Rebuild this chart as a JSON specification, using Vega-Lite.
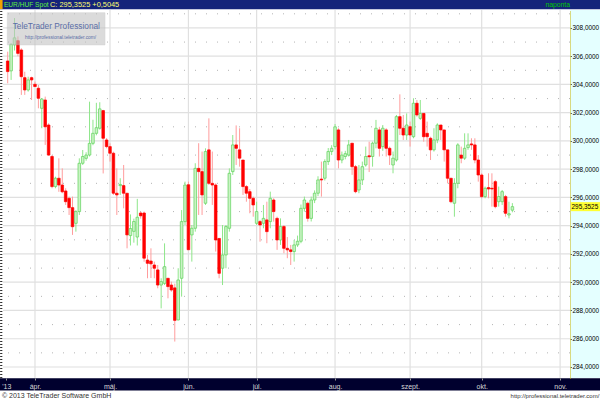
{
  "$schema": "https://vega.github.io/schema/vega-lite/v6.json",
  "width": 567,
  "height": 368,
  "autosize": {"type": "none"},
  "padding": {"left": 3, "top": 10, "right": 30, "bottom": 22},
  "background": "white",
  "config": {"view": {"stroke": null}, "font": "Liberation Sans", "axis": {"labelOverlap": false}},
  "datasets": {
    "ohlc": [
      {"i":-8,"o":305.66,"h":306.32,"l":304.08,"c":304.91},
      {"i":-7,"o":304.96,"h":306.91,"l":304.32,"c":306.84},
      {"i":-6,"o":306.8,"h":308.7,"l":306.4,"c":307.3},
      {"i":-5,"o":307.1,"h":307.4,"l":306.0,"c":306.2},
      {"i":-4,"o":306.44,"h":306.56,"l":303.26,"c":304.55},
      {"i":-3,"o":304.48,"h":304.9,"l":303.26,"c":303.61},
      {"i":-2,"o":303.61,"h":304.55,"l":303.49,"c":304.32},
      {"i":-1,"o":304.48,"h":304.55,"l":302.9,"c":304.32},
      {"i":0,"o":304.01,"h":304.2,"l":303.85,"c":303.85},
      {"i":1,"o":303.73,"h":303.96,"l":302.31,"c":303.02},
      {"i":2,"o":302.31,"h":303.02,"l":300.9,"c":302.97},
      {"i":3,"o":302.9,"h":303.14,"l":299.72,"c":301.0},
      {"i":4,"o":301.13,"h":301.25,"l":298.95,"c":299.0},
      {"i":5,"o":298.9,"h":299.0,"l":296.65,"c":296.77},
      {"i":6,"o":296.77,"h":297.47,"l":296.65,"c":297.36},
      {"i":7,"o":297.36,"h":298.77,"l":296.4,"c":296.88},
      {"i":8,"o":296.88,"h":298.06,"l":296.3,"c":296.4},
      {"i":9,"o":296.46,"h":296.65,"l":295.47,"c":295.7},
      {"i":10,"o":295.94,"h":296.06,"l":294.76,"c":295.28},
      {"i":11,"o":295.28,"h":296.06,"l":293.35,"c":293.93},
      {"i":12,"o":294.17,"h":295.1,"l":293.58,"c":295.0},
      {"i":13,"o":295.0,"h":298.77,"l":294.76,"c":298.42},
      {"i":14,"o":298.42,"h":299.36,"l":298.3,"c":298.9},
      {"i":15,"o":298.77,"h":299.2,"l":298.6,"c":299.0},
      {"i":16,"o":299.0,"h":302.78,"l":298.9,"c":299.83},
      {"i":17,"o":299.83,"h":301.5,"l":299.7,"c":300.54},
      {"i":18,"o":300.54,"h":302.7,"l":300.4,"c":300.94},
      {"i":19,"o":300.9,"h":302.74,"l":300.8,"c":302.27},
      {"i":20,"o":302.15,"h":302.2,"l":297.7,"c":300.19},
      {"i":21,"o":300.07,"h":300.2,"l":299.48,"c":299.6},
      {"i":22,"o":299.6,"h":299.83,"l":298.54,"c":299.13},
      {"i":23,"o":299.13,"h":299.24,"l":296.18,"c":296.3},
      {"i":24,"o":296.3,"h":298.06,"l":294.76,"c":296.18},
      {"i":25,"o":296.84,"h":297.36,"l":296.18,"c":296.92},
      {"i":26,"o":296.84,"h":298.3,"l":295.23,"c":296.3},
      {"i":27,"o":296.3,"h":296.3,"l":292.4,"c":293.35},
      {"i":28,"o":293.3,"h":294.8,"l":292.6,"c":293.8},
      {"i":29,"o":293.6,"h":294.5,"l":292.8,"c":294.3},
      {"i":30,"o":293.2,"h":295.9,"l":292.6,"c":294.6},
      {"i":31,"o":294.9,"h":295.0,"l":294.5,"c":294.7},
      {"i":32,"o":294.9,"h":295.0,"l":291.45,"c":291.7},
      {"i":33,"o":291.57,"h":291.93,"l":290.28,"c":291.34},
      {"i":34,"o":291.5,"h":292.4,"l":290.3,"c":291.3},
      {"i":35,"o":291.22,"h":291.46,"l":290.28,"c":290.99},
      {"i":36,"o":290.87,"h":291.22,"l":289.57,"c":289.8},
      {"i":37,"o":289.8,"h":290.28,"l":288.15,"c":290.04},
      {"i":38,"o":289.92,"h":292.75,"l":289.8,"c":291.1},
      {"i":39,"o":290.28,"h":290.28,"l":288.86,"c":289.69},
      {"i":40,"o":289.8,"h":290.04,"l":289.33,"c":289.45},
      {"i":41,"o":289.6,"h":289.9,"l":285.8,"c":287.3},
      {"i":42,"o":287.33,"h":290.99,"l":287.3,"c":290.16},
      {"i":43,"o":290.28,"h":295.11,"l":288.98,"c":294.29},
      {"i":44,"o":294.29,"h":297.12,"l":294.05,"c":296.88},
      {"i":45,"o":296.9,"h":297.12,"l":292.29,"c":292.3},
      {"i":46,"o":293.35,"h":294.05,"l":291.46,"c":293.82},
      {"i":47,"o":293.82,"h":298.42,"l":293.58,"c":298.06},
      {"i":48,"o":298.06,"h":299.84,"l":294.76,"c":297.83},
      {"i":49,"o":297.83,"h":299.25,"l":294.76,"c":296.18},
      {"i":50,"o":295.59,"h":299.48,"l":295.47,"c":299.25},
      {"i":51,"o":299.37,"h":301.6,"l":296.88,"c":297.0},
      {"i":52,"o":297.0,"h":299.25,"l":295.47,"c":296.88},
      {"i":53,"o":296.88,"h":297.0,"l":292.17,"c":292.99},
      {"i":54,"o":293.1,"h":293.1,"l":290.28,"c":290.63},
      {"i":55,"o":290.99,"h":294.05,"l":289.8,"c":291.93},
      {"i":56,"o":291.93,"h":294.05,"l":290.99,"c":293.94},
      {"i":57,"o":293.82,"h":298.06,"l":293.58,"c":297.71},
      {"i":58,"o":297.83,"h":300.42,"l":297.59,"c":299.72},
      {"i":59,"o":299.72,"h":301.1,"l":298.3,"c":299.48},
      {"i":60,"o":299.37,"h":300.9,"l":298.18,"c":298.78},
      {"i":61,"o":298.65,"h":298.65,"l":296.18,"c":296.77},
      {"i":62,"o":296.77,"h":296.88,"l":295.7,"c":296.3},
      {"i":63,"o":296.41,"h":296.6,"l":294.88,"c":295.94},
      {"i":64,"o":295.94,"h":296.06,"l":294.64,"c":295.47},
      {"i":65,"o":294.17,"h":295.7,"l":294.05,"c":295.0},
      {"i":66,"o":294.29,"h":294.41,"l":292.87,"c":294.05},
      {"i":67,"o":294.17,"h":295.47,"l":293.82,"c":294.52},
      {"i":68,"o":294.41,"h":295.7,"l":292.76,"c":293.58},
      {"i":69,"o":294.29,"h":296.41,"l":293.82,"c":295.94},
      {"i":70,"o":295.82,"h":295.94,"l":294.29,"c":295.0},
      {"i":71,"o":294.52,"h":294.64,"l":292.29,"c":292.99},
      {"i":72,"o":292.99,"h":294.52,"l":292.64,"c":293.94},
      {"i":73,"o":293.94,"h":294.05,"l":292.05,"c":292.4},
      {"i":74,"o":292.4,"h":293.2,"l":291.7,"c":292.29},
      {"i":75,"o":292.29,"h":292.64,"l":291.22,"c":292.17},
      {"i":76,"o":292.17,"h":292.99,"l":291.46,"c":292.64},
      {"i":77,"o":292.64,"h":293.3,"l":292.5,"c":292.9},
      {"i":78,"o":292.9,"h":295.5,"l":292.76,"c":295.23},
      {"i":79,"o":295.23,"h":296.06,"l":295.0,"c":295.82},
      {"i":80,"o":295.59,"h":295.7,"l":294.29,"c":294.52},
      {"i":81,"o":294.52,"h":296.06,"l":294.3,"c":295.82},
      {"i":82,"o":295.82,"h":296.5,"l":295.6,"c":296.3},
      {"i":83,"o":296.3,"h":297.5,"l":296.1,"c":297.24},
      {"i":84,"o":297.3,"h":298.54,"l":296.06,"c":297.24},
      {"i":85,"o":297.36,"h":298.7,"l":297.2,"c":298.54},
      {"i":86,"o":298.54,"h":299.5,"l":298.3,"c":299.25},
      {"i":87,"o":299.25,"h":299.7,"l":299.0,"c":299.48},
      {"i":88,"o":299.6,"h":301.2,"l":299.4,"c":301.0},
      {"i":89,"o":300.78,"h":300.9,"l":298.06,"c":298.65},
      {"i":90,"o":298.65,"h":299.25,"l":298.42,"c":299.0},
      {"i":91,"o":298.9,"h":299.3,"l":298.7,"c":299.1},
      {"i":92,"o":299.0,"h":300.07,"l":298.9,"c":299.72},
      {"i":93,"o":299.84,"h":299.84,"l":297.6,"c":298.18},
      {"i":94,"o":298.18,"h":298.3,"l":296.3,"c":296.41},
      {"i":95,"o":296.53,"h":298.3,"l":296.3,"c":297.24},
      {"i":96,"o":297.24,"h":298.54,"l":296.88,"c":298.18},
      {"i":97,"o":298.3,"h":299.6,"l":298.18,"c":298.9},
      {"i":98,"o":298.95,"h":299.95,"l":297.8,"c":298.88},
      {"i":99,"o":298.9,"h":299.95,"l":298.18,"c":299.84},
      {"i":100,"o":299.84,"h":301.49,"l":299.48,"c":300.9},
      {"i":101,"o":300.78,"h":301.0,"l":298.9,"c":299.48},
      {"i":102,"o":299.6,"h":301.13,"l":299.3,"c":300.9},
      {"i":103,"o":300.78,"h":300.9,"l":298.9,"c":299.48},
      {"i":104,"o":299.48,"h":299.6,"l":298.3,"c":299.0},
      {"i":105,"o":298.3,"h":299.25,"l":297.71,"c":298.78},
      {"i":106,"o":298.65,"h":301.84,"l":298.54,"c":301.72},
      {"i":107,"o":301.72,"h":303.3,"l":300.42,"c":300.9},
      {"i":108,"o":300.9,"h":301.84,"l":300.07,"c":300.42},
      {"i":109,"o":300.42,"h":301.95,"l":300.07,"c":301.13},
      {"i":110,"o":301.01,"h":301.37,"l":299.6,"c":300.42},
      {"i":111,"o":300.3,"h":303.02,"l":300.19,"c":302.67},
      {"i":112,"o":302.67,"h":302.9,"l":301.72,"c":301.84},
      {"i":113,"o":301.6,"h":302.9,"l":301.49,"c":301.95},
      {"i":114,"o":301.95,"h":301.95,"l":299.95,"c":300.3},
      {"i":115,"o":300.54,"h":301.37,"l":299.6,"c":300.3},
      {"i":116,"o":300.19,"h":300.3,"l":298.65,"c":299.37},
      {"i":117,"o":299.37,"h":300.9,"l":299.25,"c":300.07},
      {"i":118,"o":300.07,"h":301.25,"l":299.84,"c":301.13},
      {"i":119,"o":301.13,"h":301.13,"l":300.07,"c":300.78},
      {"i":120,"o":300.78,"h":300.78,"l":298.54,"c":299.37},
      {"i":121,"o":299.37,"h":299.37,"l":297.0,"c":297.36},
      {"i":122,"o":297.36,"h":297.36,"l":295.59,"c":295.7},
      {"i":123,"o":295.59,"h":297.36,"l":294.64,"c":297.0},
      {"i":124,"o":297.0,"h":299.84,"l":296.65,"c":299.72},
      {"i":125,"o":299.0,"h":299.6,"l":298.42,"c":298.78},
      {"i":126,"o":298.78,"h":300.54,"l":298.65,"c":299.48},
      {"i":127,"o":299.53,"h":300.54,"l":299.37,"c":299.72},
      {"i":128,"o":299.79,"h":300.19,"l":299.37,"c":299.72},
      {"i":129,"o":299.72,"h":300.19,"l":298.42,"c":298.65},
      {"i":130,"o":298.65,"h":299.0,"l":297.12,"c":297.59},
      {"i":131,"o":297.59,"h":297.71,"l":295.94,"c":296.06},
      {"i":132,"o":296.06,"h":296.77,"l":295.94,"c":296.65},
      {"i":133,"o":296.7,"h":297.71,"l":295.94,"c":296.6},
      {"i":134,"o":296.65,"h":297.71,"l":295.35,"c":296.6},
      {"i":135,"o":297.12,"h":297.24,"l":295.23,"c":295.35},
      {"i":136,"o":295.7,"h":296.77,"l":295.35,"c":296.06},
      {"i":137,"o":295.7,"h":296.53,"l":295.47,"c":296.41},
      {"i":138,"o":296.06,"h":296.18,"l":294.64,"c":294.88},
      {"i":139,"o":294.76,"h":295.7,"l":294.52,"c":294.85},
      {"i":140,"o":295.1,"h":295.6,"l":294.95,"c":295.35}
    ]
  },
  "layer": [
    {
      "data": {"name": "ohlc"},
      "mark": {"type": "rule", "strokeWidth": 1, "opacity": 0},
      "encoding": {
        "x": {"field": "i", "type": "quantitative", "title": null,
              "scale": {"domain": [-9.38, 156.9], "nice": false, "zero": false, "padding": 0},
              "axis": {"orient": "bottom", "values": [-8.4, 0, 22, 45, 65, 88, 110, 131, 154], "tickCount": 30,
                       "labelExpr": "datum.value < -5 ? \"'13\" : datum.value == 0 ? 'ápr.' : datum.value == 22 ? 'máj.' : datum.value == 45 ? 'jún.' : datum.value == 65 ? 'júl.' : datum.value == 88 ? 'aug.' : datum.value == 110 ? 'szept.' : datum.value == 131 ? 'okt.' : 'nov.'",
                       "grid": false, "domain": false, "ticks": true, "tickSize": 2, "tickColor": "#9a9a9a",
                       "labelColor": "#d8d8d8", "labelFontSize": 7, "labelFont": "Liberation Sans",
                       "labelPadding": 2, "labelAlign": "center", "labelBaseline": "top", "labelFlush": false, "labelOverlap": false, "labelBound": false, "zindex": 2}},
        "y": {"field": "l", "type": "quantitative", "title": null,
              "scale": {"domain": [283.22, 309.27], "nice": false, "zero": false},
              "axis": {"orient": "right", "values": [284, 286, 288, 290, 292, 294, 296, 298, 300, 302, 304, 306, 308], "tickCount": 30,
                       "labelExpr": "replace(format(datum.value, '.4f'), '.', ',')",
                       "grid": false, "domain": true, "domainColor": "#c8b400", "domainDash": [1, 1], "domainWidth": 1,
                       "ticks": true, "tickSize": 1.5, "tickColor": "#666666", "labelColor": "#000000", "labelFontSize": 6.4,
                       "labelFont": "Liberation Sans", "labelPadding": 0.5, "labelAlign": "left", "labelBaseline": "middle", "labelBound": false, "labelOverlap": false, "zindex": 2}},
        "y2": {"field": "h"}
      }
    },
    {
      "data": {"values": [{"g":284},{"g":286},{"g":288},{"g":290},{"g":292},{"g":294},{"g":296},{"g":298},{"g":300},{"g":302},{"g":304},{"g":306},{"g":308}]},
      "mark": {"type": "rule", "color": "#e0e0e0", "strokeWidth": 1.2},
      "encoding": {"y": {"field": "g", "type": "quantitative", "title": null, "scale": {"domain": [283.22, 309.27], "nice": false, "zero": false}}}
    },
    {
      "data": {"values": [{"g":285},{"g":287},{"g":289},{"g":291},{"g":293},{"g":295},{"g":297},{"g":299},{"g":301},{"g":303},{"g":305},{"g":307},{"g":309}]},
      "mark": {"type": "rule", "color": "#b4b4b4", "strokeWidth": 1, "strokeDash": [1, 10]},
      "encoding": {"y": {"field": "g", "type": "quantitative", "title": null, "scale": {"domain": [283.22, 309.27], "nice": false, "zero": false}}}
    },
    {
      "data": {"values": [{"m":0},{"m":22},{"m":45},{"m":65},{"m":88},{"m":110},{"m":131},{"m":154}]},
      "mark": {"type": "rule", "color": "#e0e0e0", "strokeWidth": 1.2},
      "encoding": {"x": {"field": "m", "type": "quantitative", "title": null, "scale": {"domain": [-9.38, 156.9], "nice": false, "zero": false, "padding": 0}}}
    },
    {
      "data": {"name": "ohlc"},
      "mark": {"type": "rule", "strokeWidth": 1},
      "encoding": {
        "x": {"field": "i", "type": "quantitative", "title": null, "scale": {"domain": [-9.38, 156.9], "nice": false, "zero": false, "padding": 0}},
        "y": {"field": "l", "type": "quantitative", "title": null, "scale": {"domain": [283.22, 309.27], "nice": false, "zero": false}},
        "y2": {"field": "h"},
        "color": {"condition": {"test": "datum.c >= datum.o", "value": "#8ee68a"}, "value": "#ff9c9c"}
      }
    },
    {
      "data": {"name": "ohlc"},
      "mark": {"type": "bar", "size": 2.6, "strokeWidth": 0.7},
      "encoding": {
        "x": {"field": "i", "type": "quantitative", "title": null, "scale": {"domain": [-9.38, 156.9], "nice": false, "zero": false, "padding": 0}},
        "y": {"field": "o", "type": "quantitative", "title": null, "scale": {"domain": [283.22, 309.27], "nice": false, "zero": false}},
        "y2": {"field": "c"},
        "fill": {"condition": {"test": "datum.c >= datum.o", "value": "#c9f3c4"}, "value": "#ff0000"},
        "stroke": {"condition": {"test": "datum.c >= datum.o", "value": "#5fd35a"}, "value": "#ff0000"}
      }
    },
    {
      "data": {"values": [{}]},
      "mark": {"type": "rect", "fill": "#c4c4c4", "opacity": 0.6, "stroke": "#b4b4b4", "strokeWidth": 0.5},
      "encoding": {
        "x": {"datum": -8.12, "type": "quantitative", "title": null, "scale": {"domain": [-9.38, 156.9], "nice": false, "zero": false, "padding": 0}},
        "x2": {"datum": 20.53},
        "y": {"datum": 309.08, "type": "quantitative", "title": null, "scale": {"domain": [283.22, 309.27], "nice": false, "zero": false}},
        "y2": {"datum": 306.8}
      }
    },
    {
      "data": {"values": [{}]},
      "mark": {"type": "text", "text": "TeleTrader Professional", "font": "Liberation Sans", "fontSize": 8.3, "color": "#5a6ea6", "align": "left", "baseline": "middle"},
      "encoding": {
        "x": {"datum": -6.55, "type": "quantitative", "title": null, "scale": {"domain": [-9.38, 156.9], "nice": false, "zero": false, "padding": 0}},
        "y": {"datum": 308.1, "type": "quantitative", "title": null, "scale": {"domain": [283.22, 309.27], "nice": false, "zero": false}}
      }
    },
    {
      "data": {"values": [{}]},
      "mark": {"type": "text", "text": "http://professional.teletrader.com/", "font": "Liberation Sans", "fontSize": 4.8, "color": "#5a6ea6", "align": "left", "baseline": "middle"},
      "encoding": {
        "x": {"datum": -2.9, "type": "quantitative", "title": null, "scale": {"domain": [-9.38, 156.9], "nice": false, "zero": false, "padding": 0}},
        "y": {"datum": 307.3, "type": "quantitative", "title": null, "scale": {"domain": [283.22, 309.27], "nice": false, "zero": false}}
      }
    },
    {
      "data": {"values": [{}]},
      "mark": {"type": "rect", "fill": "#e4ffff"},
      "encoding": {
        "x": {"datum": 156.95, "type": "quantitative", "title": null, "scale": {"domain": [-9.38, 156.9], "nice": false, "zero": false, "padding": 0}},
        "x2": {"datum": 166},
        "y": {"datum": 283.22, "type": "quantitative", "title": null, "scale": {"domain": [283.22, 309.27], "nice": false, "zero": false}},
        "y2": {"datum": 309.27}
      }
    },
    {
      "data": {"values": [{}]},
      "mark": {"type": "rect", "fill": "#14237a"},
      "encoding": {
        "x": {"datum": -10.5, "type": "quantitative", "title": null, "scale": {"domain": [-9.38, 156.9], "nice": false, "zero": false, "padding": 0}},
        "x2": {"datum": 166},
        "y": {"datum": 309.33, "type": "quantitative", "title": null, "scale": {"domain": [283.22, 309.27], "nice": false, "zero": false}},
        "y2": {"datum": 310.2}
      }
    },
    {
      "data": {"values": [{}]},
      "mark": {"type": "rect", "fill": "#f0a000"},
      "encoding": {
        "x": {"datum": -10.5, "type": "quantitative", "title": null, "scale": {"domain": [-9.38, 156.9], "nice": false, "zero": false, "padding": 0}},
        "x2": {"datum": -9.5},
        "y": {"datum": 309.33, "type": "quantitative", "title": null, "scale": {"domain": [283.22, 309.27], "nice": false, "zero": false}},
        "y2": {"datum": 310.2}
      }
    },
    {
      "data": {"values": [{}]},
      "mark": {"type": "rect", "fill": "#00002e"},
      "encoding": {
        "x": {"datum": -10.5, "type": "quantitative", "title": null, "scale": {"domain": [-9.38, 156.9], "nice": false, "zero": false, "padding": 0}},
        "x2": {"datum": 166},
        "y": {"datum": 283.2, "type": "quantitative", "title": null, "scale": {"domain": [283.22, 309.27], "nice": false, "zero": false}},
        "y2": {"datum": 282.33}
      }
    },
    {
      "data": {"values": [{}]},
      "mark": {"type": "text", "text": "EUR/HUF Spot", "font": "Liberation Sans", "fontSize": 6.6, "color": "#5cf03c", "align": "left", "baseline": "middle"},
      "encoding": {
        "x": {"datum": -9.1, "type": "quantitative", "title": null, "scale": {"domain": [-9.38, 156.9], "nice": false, "zero": false, "padding": 0}},
        "y": {"datum": 309.64, "type": "quantitative", "title": null, "scale": {"domain": [283.22, 309.27], "nice": false, "zero": false}}
      }
    },
    {
      "data": {"values": [{}]},
      "mark": {"type": "text", "text": "C: 295,3525 +0,5045", "font": "Liberation Sans", "fontSize": 7.4, "color": "#ffff70", "align": "left", "baseline": "middle"},
      "encoding": {
        "x": {"datum": 4.4, "type": "quantitative", "title": null, "scale": {"domain": [-9.38, 156.9], "nice": false, "zero": false, "padding": 0}},
        "y": {"datum": 309.64, "type": "quantitative", "title": null, "scale": {"domain": [283.22, 309.27], "nice": false, "zero": false}}
      }
    },
    {
      "data": {"values": [{}]},
      "mark": {"type": "text", "text": "naponta", "font": "Liberation Sans", "fontSize": 6.8, "color": "#00c800", "align": "center", "baseline": "middle"},
      "encoding": {
        "x": {"datum": 153.3, "type": "quantitative", "title": null, "scale": {"domain": [-9.38, 156.9], "nice": false, "zero": false, "padding": 0}},
        "y": {"datum": 309.64, "type": "quantitative", "title": null, "scale": {"domain": [283.22, 309.27], "nice": false, "zero": false}}
      }
    },
    {
      "data": {"values": [{}]},
      "mark": {"type": "rect", "fill": "#ffff33"},
      "encoding": {
        "x": {"datum": 157.2, "type": "quantitative", "title": null, "scale": {"domain": [-9.38, 156.9], "nice": false, "zero": false, "padding": 0}},
        "x2": {"datum": 165.9},
        "y": {"datum": 295.67, "type": "quantitative", "title": null, "scale": {"domain": [283.22, 309.27], "nice": false, "zero": false}},
        "y2": {"datum": 295.03}
      }
    },
    {
      "data": {"values": [{}]},
      "mark": {"type": "text", "text": "295,3525", "font": "Liberation Sans", "fontSize": 6.4, "color": "#000000", "align": "left", "baseline": "middle"},
      "encoding": {
        "x": {"datum": 157.35, "type": "quantitative", "title": null, "scale": {"domain": [-9.38, 156.9], "nice": false, "zero": false, "padding": 0}},
        "y": {"datum": 295.35, "type": "quantitative", "title": null, "scale": {"domain": [283.22, 309.27], "nice": false, "zero": false}}
      }
    },
    {
      "data": {"values": [{}]},
      "mark": {"type": "text", "text": "© 2013 TeleTrader Software GmbH", "font": "Liberation Sans", "fontSize": 7, "color": "#333333", "align": "left", "baseline": "middle"},
      "encoding": {
        "x": {"datum": -9.7, "type": "quantitative", "title": null, "scale": {"domain": [-9.38, 156.9], "nice": false, "zero": false, "padding": 0}},
        "y": {"datum": 281.98, "type": "quantitative", "title": null, "scale": {"domain": [283.22, 309.27], "nice": false, "zero": false}}
      }
    },
    {
      "data": {"values": [{}]},
      "mark": {"type": "text", "text": "http://professional.teletrader.com/", "font": "Liberation Sans", "fontSize": 6, "color": "#333333", "align": "right", "baseline": "middle"},
      "encoding": {
        "x": {"datum": 165.5, "type": "quantitative", "title": null, "scale": {"domain": [-9.38, 156.9], "nice": false, "zero": false, "padding": 0}},
        "y": {"datum": 281.98, "type": "quantitative", "title": null, "scale": {"domain": [283.22, 309.27], "nice": false, "zero": false}}
      }
    },
    {
      "data": {"values": [{}]},
      "mark": {"type": "rule", "color": "#303030", "strokeWidth": 2.2, "strokeDash": [1, 2]},
      "encoding": {
        "x": {"datum": -9.9, "type": "quantitative", "title": null, "scale": {"domain": [-9.38, 156.9], "nice": false, "zero": false, "padding": 0}},
        "y": {"datum": 283.22, "type": "quantitative", "title": null, "scale": {"domain": [283.22, 309.27], "nice": false, "zero": false}},
        "y2": {"datum": 309.27}
      }
    }
  ]
}
